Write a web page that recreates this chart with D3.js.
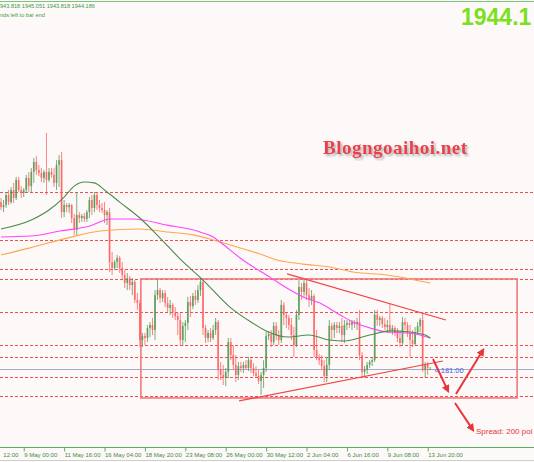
<!DOCTYPE html>
<html>
<head>
<meta charset="utf-8">
<script src="https://cdn.jsdelivr.net/npm/d3@7"></script>
<style>
  body { margin: 0; background: #fdf9f9; }
  svg { display: block; }
</style>
</head>
<body>
<div id="chart"></div>
<script>
// XAUUSD H4 bars
var openP = [
  2017.4, 2015.2, 2016.1, 2020.5, 2017.4, 2022.7, 2019.2, 2027.1, 2022.7, 2021.4,
  2022.7, 2028.0, 2024.4, 2030.6, 2035.0, 2031.5, 2030.1, 2028.0, 2030.6, 2027.1,
  2030.6, 2029.3, 2025.8, 2033.7, 2035.8, 2013.0, 2016.1, 2015.2, 2016.1, 2010.4,
  2005.2, 2011.7, 2010.4, 2011.3, 2010.0, 2013.0, 2018.3, 2014.8, 2020.5, 2016.1,
  2014.8, 2013.9, 2011.7, 2013.0, 1991.1, 1988.5, 1991.1, 1992.9, 1988.5, 1985.4,
  1981.9, 1984.1, 1981.0, 1982.4, 1974.5, 1973.1, 1956.9, 1958.7, 1957.8, 1962.2,
  1963.5, 1961.3, 1976.6, 1978.8, 1975.3, 1977.5, 1973.1, 1971.0, 1972.3, 1968.8,
  1967.4, 1965.7, 1956.9, 1963.1, 1964.4, 1973.6, 1971.8, 1976.2, 1974.5, 1978.8,
  1982.4, 1962.2, 1957.8, 1960.0, 1957.8, 1961.3, 1964.8, 1943.8, 1941.6, 1940.3,
  1942.9, 1956.0, 1950.3, 1946.0, 1941.6, 1945.5, 1944.6, 1946.0, 1944.6, 1948.1,
  1944.6, 1942.4, 1941.1, 1938.9, 1941.6, 1944.6, 1958.7, 1959.5, 1956.0, 1963.1,
  1959.1, 1956.9, 1972.3, 1967.9, 1966.6, 1963.5, 1959.1, 1954.7, 1967.9, 1980.2,
  1978.0, 1981.9, 1976.6, 1974.5, 1976.2, 1952.5, 1949.5, 1948.1, 1945.5, 1941.1,
  1946.0, 1963.1, 1961.3, 1963.5, 1962.2, 1963.1, 1959.1, 1963.5, 1964.4, 1963.5,
  1964.8, 1963.9, 1964.8, 1950.3, 1942.9, 1943.8, 1946.0, 1947.3, 1948.1, 1967.9,
  1965.7, 1966.6, 1963.9, 1962.6, 1963.5, 1961.3, 1962.2, 1960.4, 1957.8, 1955.6,
  1964.8, 1963.5, 1960.0, 1956.9, 1955.2, 1960.4, 1963.1, 1965.7, 1943.8, 1946.4,
  1943.8
];
var highP = [
  2019.2, 2018.3, 2021.8, 2022.7, 2024.0, 2025.8, 2028.4, 2028.4, 2024.4, 2023.6,
  2029.3, 2030.6, 2032.3, 2036.7, 2037.6, 2033.7, 2032.3, 2031.5, 2047.7, 2032.3,
  2032.3, 2032.3, 2035.8, 2038.0, 2039.4, 2018.3, 2017.0, 2017.0, 2016.6, 2012.2,
  2021.8, 2013.0, 2012.2, 2012.6, 2013.9, 2019.6, 2020.5, 2021.8, 2021.4, 2018.3,
  2017.0, 2017.4, 2013.9, 2014.8, 1995.5, 1992.0, 1994.2, 1993.7, 1991.1, 1987.6,
  1986.3, 1985.0, 1984.1, 1983.2, 1977.5, 1974.5, 1960.0, 1960.0, 1963.5, 1964.8,
  1966.6, 1978.8, 1983.7, 1979.7, 1978.8, 1978.8, 1975.8, 1974.5, 1973.1, 1971.4,
  1969.2, 1968.8, 1964.8, 1965.7, 1975.8, 1976.2, 1977.5, 1978.8, 1981.0, 1984.1,
  1984.1, 1963.5, 1961.3, 1962.2, 1963.5, 1966.6, 1965.7, 1947.3, 1946.0, 1944.6,
  1957.8, 1957.8, 1954.7, 1950.3, 1947.3, 1947.3, 1947.3, 1948.1, 1949.5, 1949.0,
  1946.8, 1945.5, 1943.8, 1942.9, 1948.1, 1960.4, 1960.9, 1961.3, 1964.8, 1964.8,
  1961.3, 1974.5, 1973.6, 1968.8, 1967.9, 1966.6, 1962.6, 1970.1, 1983.2, 1981.9,
  1983.2, 1983.2, 1979.7, 1978.8, 1977.1, 1961.3, 1950.8, 1950.3, 1948.1, 1949.5,
  1965.7, 1964.4, 1964.8, 1964.8, 1964.8, 1966.6, 1965.7, 1965.7, 1965.7, 1965.7,
  1965.7, 1966.6, 1970.1, 1951.7, 1945.5, 1947.3, 1948.1, 1949.0, 1970.1, 1970.1,
  1967.4, 1967.4, 1966.6, 1965.7, 1973.1, 1963.5, 1963.1, 1962.2, 1960.4, 1967.0,
  1966.6, 1964.8, 1963.5, 1961.3, 1962.6, 1964.8, 1966.6, 1969.2, 1947.3, 1947.3,
  1945.1
];
var lowP = [
  2013.9, 2013.0, 2014.8, 2016.1, 2016.6, 2017.0, 2018.3, 2021.8, 2019.2, 2019.6,
  2021.4, 2021.8, 2021.4, 2025.8, 2029.3, 2028.8, 2026.2, 2025.8, 2020.5, 2026.2,
  2028.0, 2024.0, 2022.7, 2024.0, 2010.4, 2010.8, 2013.0, 2012.6, 2008.2, 2003.0,
  2002.5, 2008.2, 2008.7, 2008.7, 2008.7, 2010.4, 2011.7, 2013.0, 2013.9, 2013.0,
  2012.6, 2008.2, 2007.3, 1986.7, 1985.4, 1987.6, 1988.5, 1986.3, 1983.2, 1979.7,
  1978.8, 1978.8, 1976.6, 1973.1, 1970.1, 1953.8, 1953.8, 1954.7, 1956.0, 1958.2,
  1959.1, 1956.9, 1974.5, 1973.1, 1973.6, 1971.4, 1969.2, 1967.9, 1966.6, 1965.7,
  1959.1, 1954.7, 1954.3, 1956.0, 1961.3, 1967.0, 1970.5, 1972.3, 1973.1, 1976.2,
  1959.1, 1955.6, 1956.0, 1956.0, 1956.9, 1959.1, 1939.4, 1939.4, 1937.2, 1936.7,
  1940.3, 1948.1, 1943.8, 1938.5, 1939.4, 1942.9, 1942.4, 1943.8, 1943.3, 1942.4,
  1941.1, 1940.3, 1937.6, 1932.8, 1935.9, 1942.9, 1956.9, 1953.8, 1954.7, 1956.9,
  1954.7, 1955.6, 1963.5, 1962.2, 1961.3, 1956.9, 1949.5, 1953.8, 1965.7, 1974.5,
  1975.8, 1974.5, 1971.4, 1972.3, 1949.5, 1948.1, 1946.0, 1943.8, 1938.5, 1938.5,
  1943.8, 1956.9, 1957.8, 1960.0, 1960.0, 1956.0, 1955.6, 1961.3, 1962.2, 1961.3,
  1962.2, 1961.3, 1948.1, 1940.7, 1940.3, 1942.0, 1944.6, 1945.5, 1947.3, 1963.1,
  1963.1, 1962.2, 1961.3, 1960.0, 1960.0, 1959.1, 1958.7, 1956.0, 1953.8, 1954.7,
  1961.3, 1958.2, 1949.5, 1953.8, 1954.3, 1959.1, 1960.4, 1942.9, 1940.3, 1941.6,
  1943.8
];
var closeP = [
  2015.2, 2016.1, 2020.5, 2017.4, 2022.7, 2019.2, 2027.1, 2022.7, 2021.4, 2022.7,
  2028.0, 2024.4, 2030.6, 2035.0, 2031.5, 2030.1, 2028.0, 2030.6, 2027.1, 2030.6,
  2029.3, 2025.8, 2033.7, 2035.8, 2013.0, 2016.1, 2015.2, 2016.1, 2010.4, 2005.2,
  2011.7, 2010.4, 2011.3, 2010.0, 2013.0, 2018.3, 2014.8, 2020.5, 2016.1, 2014.8,
  2013.9, 2011.7, 2013.0, 1991.1, 1988.5, 1991.1, 1992.9, 1988.5, 1985.4, 1981.9,
  1984.1, 1981.0, 1982.4, 1974.5, 1973.1, 1956.9, 1958.7, 1957.8, 1962.2, 1963.5,
  1961.3, 1976.6, 1978.8, 1975.3, 1977.5, 1973.1, 1971.0, 1972.3, 1968.8, 1967.4,
  1965.7, 1956.9, 1963.1, 1964.4, 1973.6, 1971.8, 1976.2, 1974.5, 1978.8, 1982.4,
  1962.2, 1957.8, 1960.0, 1957.8, 1961.3, 1964.8, 1943.8, 1941.6, 1940.3, 1942.9,
  1956.0, 1950.3, 1946.0, 1941.6, 1945.5, 1944.6, 1946.0, 1944.6, 1948.1, 1944.6,
  1942.4, 1941.1, 1938.9, 1941.6, 1944.6, 1958.7, 1959.5, 1956.0, 1963.1, 1959.1,
  1956.9, 1972.3, 1967.9, 1966.6, 1963.5, 1959.1, 1954.7, 1967.9, 1980.2, 1978.0,
  1981.9, 1976.6, 1974.5, 1976.2, 1952.5, 1949.5, 1948.1, 1945.5, 1941.1, 1946.0,
  1963.1, 1961.3, 1963.5, 1962.2, 1963.1, 1959.1, 1963.5, 1964.4, 1963.5, 1964.8,
  1963.9, 1964.8, 1950.3, 1942.9, 1943.8, 1946.0, 1947.3, 1948.1, 1967.9, 1965.7,
  1966.6, 1963.9, 1962.6, 1963.5, 1961.3, 1962.2, 1960.4, 1957.8, 1955.6, 1964.8,
  1963.5, 1960.0, 1956.9, 1955.2, 1960.4, 1963.1, 1965.7, 1943.8, 1946.4, 1944.6,
  1944.2
];

// moving averages sampled along the curves (bar index, price)
var maFastBar = [0, 12, 19, 25, 29, 33, 37, 41, 47, 55, 63, 71, 80, 91, 99, 105, 114, 122, 130, 136, 146, 154, 162, 168, 170];
var maFastVal = [2005.6, 2009.5, 2013.9, 2019.6, 2024.4, 2026.2, 2025.8, 2022.7, 2017.4, 2010.4, 2001.6, 1992.4, 1983.2, 1971.0, 1964.8, 1960.9, 1958.2, 1959.1, 1956.9, 1956.5, 1959.1, 1960.9, 1960.4, 1959.1, 1957.8];
var maMidBar = [0, 11.5, 23.4, 35.2, 43.2, 52.3, 65.7, 78.8, 84, 86.7, 95.8, 106.5, 114.5, 119.6, 126.3, 134.3, 139.4, 146.1, 152.9, 160.8, 165.9, 170];
var maMidVal = [2002.1, 2002.5, 2004.7, 2006.9, 2010.0, 2010.0, 2007.3, 2004.3, 2002.1, 1999.9, 1992.0, 1984.5, 1978.8, 1975.8, 1973.1, 1967.9, 1964.8, 1962.2, 1960.4, 1960.0, 1959.1, 1957.8];
var maSlowBar = [0, 11.5, 26.1, 39.2, 55, 65.7, 76, 84, 94.7, 102.6, 109.3, 119.6, 130.3, 139.4, 152.9, 162, 170];
var maSlowVal = [1994.2, 1997.3, 2001.6, 2004.7, 2005.6, 2004.3, 2003.0, 2000.8, 1997.3, 1994.6, 1992.0, 1990.2, 1988.9, 1986.7, 1985.4, 1983.7, 1981.9];

// horizontal levels and current bid
var levels = [2021.8, 2000.8, 1988.0, 1983.7, 1969.2, 1954.7, 1949.5, 1940.7, 1932.5];
var bidPrice = 1944.186;

// time axis (first label only shows its time, the date is off screen)
var tickBars = [-7, 9, 25, 41, 57, 73, 89, 105, 121, 137, 153, 169];
var tickLabels = ["12:00", "9 May 00:00", "11 May 16:00", "16 May 04:00", "18 May 20:00", "23 May 08:00",
  "26 May 00:00", "30 May 12:00", "2 Jun 04:00", "6 Jun 16:00", "9 Jun 08:00", "13 Jun 20:00"];

// drawn objects (bar index, price)
var boxBars = [55.4, 204.4], boxPrices = [1983.7, 1931.5];
var trendTop = [[113.3, 1985.9], [176.2, 1965.7]];
var trendBottom = [[94.3, 1930.2], [175.0, 1947.7]];
var arrows = [
  [[171.1, 1948.6], [177.0, 1934.6]],
  [[180.2, 1933.2], [190.9, 1952.5]],
  [[179.8, 1929.3], [186.9, 1917.5]]
];

var W = 534, H = 462, axisY = 447.5;

var svg = d3.select("#chart").append("svg")
  .attr("width", W)
  .attr("height", H)
  .style("font-family", "'Liberation Sans', Arial, sans-serif");

var defs = svg.append("defs");
defs.append("marker")
  .attr("id", "ah")
  .attr("viewBox", "0 0 10 10")
  .attr("refX", 7).attr("refY", 5)
  .attr("markerWidth", 4).attr("markerHeight", 4)
  .attr("orient", "auto")
  .append("path").attr("d", "M0,0L10,5L0,10z").attr("fill", "#e8353a");
defs.append("filter").attr("id", "sh")
  .append("feDropShadow")
  .attr("dx", 2).attr("dy", 2).attr("stdDeviation", 1.3)
  .attr("flood-color", "#777").attr("flood-opacity", 0.55);
defs.append("clipPath").attr("id", "plot")
  .append("rect").attr("x", 0).attr("y", 0).attr("width", W).attr("height", axisY);

svg.append("rect").attr("width", W).attr("height", H).attr("fill", "#fdf9f9");

var x = d3.scaleLinear().domain([0, 170]).range([1, 430.25]);
var y = d3.scaleLinear().domain([1910, 2106]).range([447, 0]);

var plot = svg.append("g").attr("clip-path", "url(#plot)");

// top green line
svg.append("line").attr("x1", 0).attr("x2", W).attr("y1", 1.5).attr("y2", 1.5)
  .attr("stroke", "#7cc47c").attr("stroke-width", 1);

// dashed levels
plot.selectAll("line.level").data(levels).enter().append("line")
  .attr("class", "level")
  .attr("x1", 0).attr("x2", W)
  .attr("y1", function (d) { return Math.round(y(d)) + 0.5; })
  .attr("y2", function (d) { return Math.round(y(d)) + 0.5; })
  .attr("stroke", "#f03a3a")
  .attr("stroke-width", 0.9)
  .attr("stroke-dasharray", "3,2");

// bid line
plot.append("line")
  .attr("x1", 0).attr("x2", W)
  .attr("y1", Math.round(y(bidPrice)) + 0.5).attr("y2", Math.round(y(bidPrice)) + 0.5)
  .attr("stroke", "#a3abc2").attr("stroke-width", 1);

// box
plot.append("rect")
  .attr("x", x(boxBars[0]))
  .attr("y", y(boxPrices[0]))
  .attr("width", x(boxBars[1]) - x(boxBars[0]))
  .attr("height", y(boxPrices[1]) - y(boxPrices[0]))
  .attr("fill", "none")
  .attr("stroke", "#f07a7a")
  .attr("stroke-width", 1.6);

// candles
var bars = d3.range(openP.length).map(function (i) {
  return { i: i, o: openP[i], h: highP[i], l: lowP[i], c: closeP[i] };
});
var bull = "#4f954f", bear = "#ff5c5c";

plot.selectAll("line.wick").data(bars).enter().append("line")
  .attr("class", "wick")
  .attr("x1", function (d) { return x(d.i); })
  .attr("x2", function (d) { return x(d.i); })
  .attr("y1", function (d) { return y(d.h); })
  .attr("y2", function (d) { return y(d.l); })
  .attr("stroke", function (d) { return d.c >= d.o ? bull : bear; })
  .attr("stroke-width", 0.9)
  .attr("opacity", 0.85);

plot.selectAll("rect.body").data(bars).enter().append("rect")
  .attr("class", "body")
  .attr("x", function (d) { return x(d.i) - 0.9; })
  .attr("width", 1.8)
  .attr("y", function (d) { return y(Math.max(d.o, d.c)); })
  .attr("height", function (d) { return Math.max(0.8, Math.abs(y(d.o) - y(d.c))); })
  .attr("fill", function (d) { return d.c >= d.o ? bull : bear; })
  .attr("opacity", 0.75);

// moving averages
var maLine = d3.line()
  .x(function (d) { return x(d[0]); })
  .y(function (d) { return y(d[1]); })
  .curve(d3.curveMonotoneX);

function drawMA(bs, vs, color) {
  plot.append("path")
    .datum(d3.zip(bs, vs))
    .attr("d", maLine)
    .attr("fill", "none")
    .attr("stroke", color)
    .attr("stroke-width", 1.1);
}
drawMA(maSlowBar, maSlowVal, "#ffa64d");
drawMA(maMidBar, maMidVal, "#ff44ff");
drawMA(maFastBar, maFastVal, "#4a8c4a");

// trend lines
[trendTop, trendBottom].forEach(function (t) {
  plot.append("line")
    .attr("x1", x(t[0][0])).attr("y1", y(t[0][1]))
    .attr("x2", x(t[1][0])).attr("y2", y(t[1][1]))
    .attr("stroke", "#f04545").attr("stroke-width", 1.2);
});

// arrows
arrows.forEach(function (a) {
  plot.append("line")
    .attr("x1", x(a[0][0])).attr("y1", y(a[0][1]))
    .attr("x2", x(a[1][0])).attr("y2", y(a[1][1]))
    .attr("stroke", "#e8353a").attr("stroke-width", 2)
    .attr("marker-end", "url(#ah)");
});

// texts (kept to the part that shows inside the window)
svg.append("text")
  .attr("x", 0).attr("y", 7.5)
  .attr("font-size", 5.6).attr("fill", "#3f9a3f")
  .text("943.818 1945.051 1943.818 1944.186");
svg.append("text")
  .attr("x", 0).attr("y", 17)
  .attr("font-size", 5.6).attr("fill", "#3f9a3f")
  .text("nds left to bar end");

svg.append("text")
  .attr("x", 461).attr("y", 25)
  .attr("font-size", 23).attr("font-weight", "bold")
  .attr("fill", "#7ce020")
  .text("1944.1");

svg.append("text")
  .attr("x", 323).attr("y", 154)
  .attr("font-family", "'Liberation Serif', 'Times New Roman', serif")
  .attr("font-size", 19).attr("font-weight", "bold")
  .attr("fill", "#e9404c")
  .attr("textLength", 144)
  .attr("filter", "url(#sh)")
  .text("Blogngoaihoi.net");

svg.append("text")
  .attr("x", x(171.6)).attr("y", y(1942.4))
  .attr("font-size", 7.5).attr("fill", "#4a5ce8")
  .text("< 181:00");

svg.append("text")
  .attr("x", x(188.1)).attr("y", y(1915.7))
  .attr("font-size", 8).attr("fill", "#e8353a")
  .text("Spread: 200 poi");

// time axis
var xAxis = d3.axisBottom(x)
  .tickValues(tickBars)
  .tickFormat(function (d, k) { return tickLabels[k]; })
  .tickSize(4)
  .tickSizeOuter(0);

var ax = svg.append("g")
  .attr("transform", "translate(0," + axisY + ")")
  .call(xAxis);
ax.select(".domain").remove();
ax.selectAll(".tick line").attr("stroke", "#5bb05b");
ax.selectAll(".tick text")
  .attr("text-anchor", "start")
  .attr("x", function (d, k) { return k === 0 ? 19.5 : 0; })
  .attr("y", 4.8)
  .attr("fill", "#3c8c3c")
  .style("font-size", "6px")
  .style("font-family", "'Liberation Sans', Arial, sans-serif");

svg.append("line").attr("x1", 0).attr("x2", W).attr("y1", axisY).attr("y2", axisY)
  .attr("stroke", "#5bb05b").attr("stroke-width", 1);
svg.append("line").attr("x1", 0).attr("x2", W).attr("y1", 460.5).attr("y2", 460.5)
  .attr("stroke", "#cfcfcf").attr("stroke-width", 1);
</script>
</body>
</html>
